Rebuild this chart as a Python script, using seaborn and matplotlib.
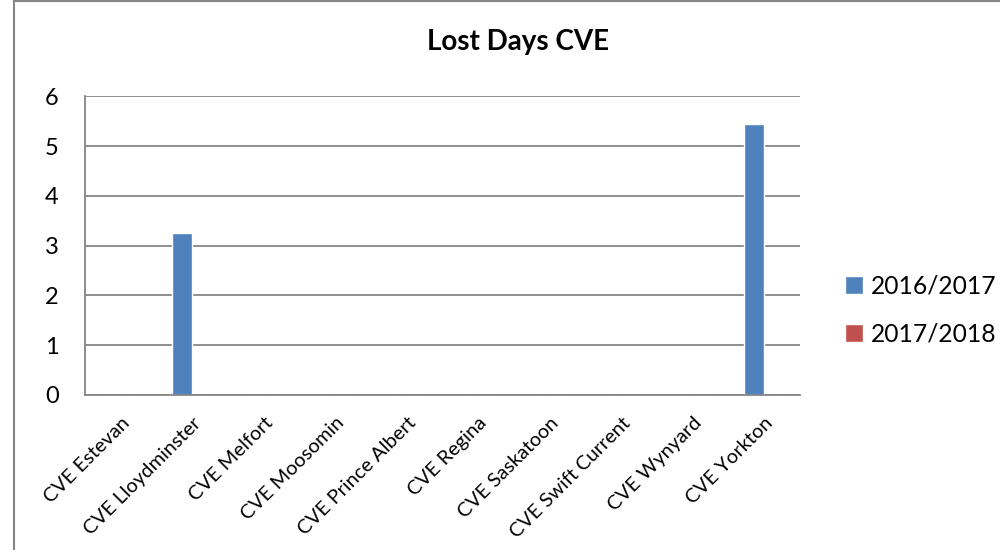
import pandas as pd
import numpy as np
import seaborn as sns
import matplotlib.pyplot as plt
from matplotlib.patches import Rectangle

# Datos
sedes = ["CVE Estevan", "CVE Lloydminster", "CVE Melfort", "CVE Moosomin",
         "CVE Prince Albert", "CVE Regina", "CVE Saskatoon", "CVE Swift Current",
         "CVE Wynyard", "CVE Yorkton"]
dias_2016 = [0, 3.25, 0, 0, 0, 0, 0, 0, 0, 5.45]
dias_2017 = [0, 0, 0, 0, 0, 0, 0, 0, 0, 0]
periodos = ["2016/2017", "2017/2018"]
colores = ["#4F81BD", "#C0504D"]

datos = pd.DataFrame({
    "sede": sedes * 2,
    "dias": dias_2016 + dias_2017,
    "periodo": [periodos[0]] * len(sedes) + [periodos[1]] * len(sedes),
})

sns.set_style("white")
plt.rcParams['font.family'] = ['Lato', 'DejaVu Sans']
plt.rcParams['text.color'] = 'black'
plt.rcParams['xtick.color'] = 'black'
plt.rcParams['ytick.color'] = 'black'

fig = plt.figure(figsize=(10, 5.5), dpi=100)
ax = fig.add_axes([0.085, 0.282, 0.715, 0.543])

sns.barplot(data=datos, x="sede", y="dias", hue="periodo", palette=colores,
            width=0.575, saturation=1, ax=ax, legend=True)

ax.set_ylim(0, 6)
ax.set_xlim(-0.5, len(sedes) - 0.5)
ax.set_yticks(range(0, 7))
ax.yaxis.grid(True, color="#868686", linewidth=1.3)
ax.set_axisbelow(True)
for lado in ["top", "right"]:
    ax.spines[lado].set_visible(False)
for lado in ["left", "bottom"]:
    ax.spines[lado].set_color("#868686")
    ax.spines[lado].set_linewidth(1.3)
ax.tick_params(axis="y", labelsize=17, length=0, pad=19)
ax.tick_params(axis="x", labelsize=14.4, length=0, pad=14)
plt.setp(ax.get_xticklabels(), rotation=45, ha="right", rotation_mode="anchor")
ax.set_xlabel("")
ax.set_ylabel("")

ax.legend(loc="center left", bbox_to_anchor=(0.845, 0.436),
          bbox_transform=fig.transFigure, frameon=False, borderpad=0,
          borderaxespad=0, fontsize=17.7, handlelength=0.75, handleheight=0.75,
          handletextpad=0.3, labelspacing=1.0)

fig.text(0.518, 0.924, "Lost Days CVE", ha="center", va="center",
         fontsize=20, fontweight="bold")

# Borde del gráfico
fig.patches.append(Rectangle((0.014, -0.05), 1.2, 1.048, transform=fig.transFigure,
                             fill=False, edgecolor="#868686", linewidth=1.5))

fig.savefig("out.png", dpi=100)
